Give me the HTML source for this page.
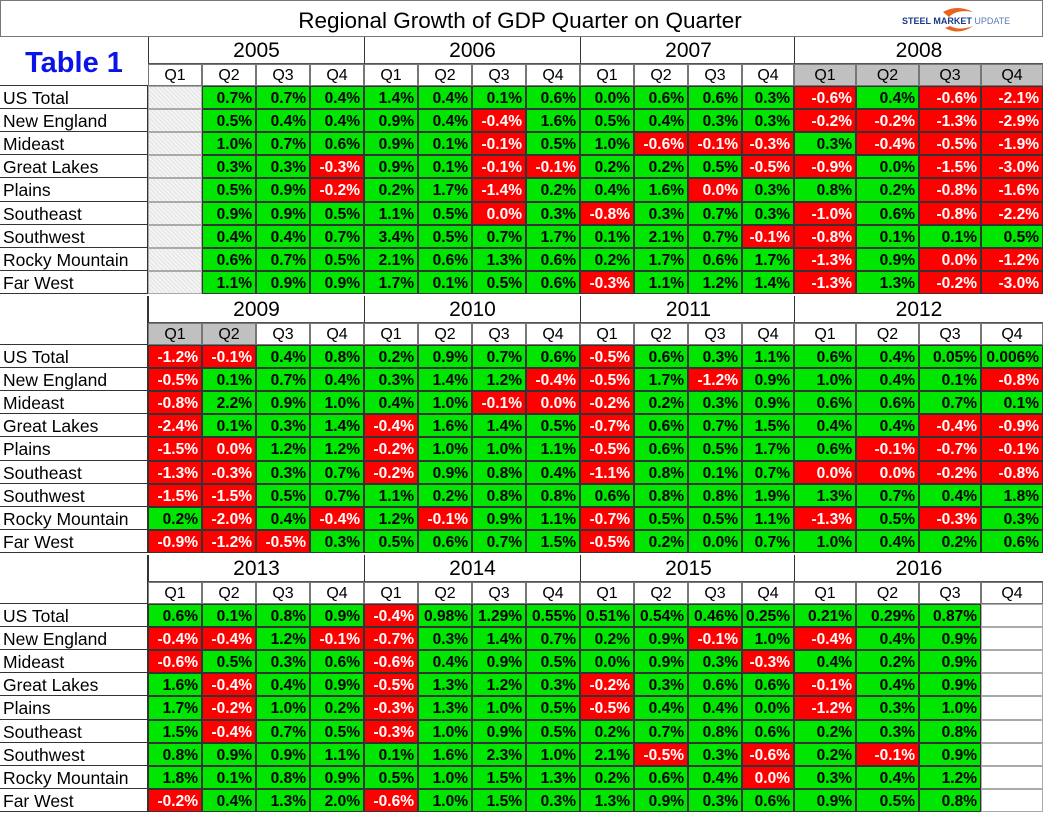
<!DOCTYPE html>
<html><head><meta charset="utf-8">
<style>
body{margin:0;background:#fff;}
#root{position:relative;width:1043px;height:814px;overflow:hidden;font-family:"Liberation Sans",Arial,sans-serif;background:#fff;}
.c{position:absolute;box-sizing:border-box;white-space:nowrap;overflow:hidden;}
.v{font-weight:bold;font-size:15.5px;text-align:right;padding-right:3px;border:1px solid #333;line-height:23px;}
.lab{font-size:17.5px;padding-left:3px;border-bottom:1px solid #333;border-right:1px solid #333;line-height:24px;}
.yr{font-size:21px;text-align:center;border-left:1px solid #333;border-bottom:1px solid #555;}
.q{font-size:16px;text-align:center;border:1px solid #777;}
</style></head><body>
<div id="root">
<div class="c" style="left:0;top:0;width:1043px;height:37px;border:1px solid #777;"></div>
<div class="c" style="left:250px;top:8px;width:540px;text-align:center;font-size:22.5px;">Regional Growth of GDP Quarter on Quarter</div>
<div class="c" style="left:895px;top:6px;width:148px;height:28px;">
<svg width="148" height="28"><path d="M48 6 Q62 -2 78 6 Q62 3 54 11 Z" fill="#e8641e"/><path d="M50 22 Q64 30 78 20 Q64 25 55 20 Z" fill="#e8641e"/><text x="7" y="18" font-size="9" font-weight="bold" fill="#1a3a8a" font-family="Liberation Sans">STEEL MARKET <tspan font-weight="normal" fill="#5a7ab8">UPDATE</tspan></text></svg></div>
<div class="c" style="left:0;top:37px;width:148px;height:49px;color:#0a14e6;font-weight:bold;font-size:29px;text-align:center;line-height:52px;border-bottom:1px solid #333;">Table 1</div>
</div>
<script>
const years=[["2005","2006","2007","2008"],["2009","2010","2011","2012"],["2013","2014","2015","2016"]];
const regions=["US Total","New England","Mideast","Great Lakes","Plains","Southeast","Southwest","Rocky Mountain","Far West"];
const quarters=["Q1","Q2","Q3","Q4"];
// "-0.0" denotes a zero shown in red; "" = no data
const block1=[
["","0.7","0.7","0.4","1.4","0.4","0.1","0.6","0.0","0.6","0.6","0.3","-0.6","0.4","-0.6","-2.1"],
["","0.5","0.4","0.4","0.9","0.4","-0.4","1.6","0.5","0.4","0.3","0.3","-0.2","-0.2","-1.3","-2.9"],
["","1.0","0.7","0.6","0.9","0.1","-0.1","0.5","1.0","-0.6","-0.1","-0.3","0.3","-0.4","-0.5","-1.9"],
["","0.3","0.3","-0.3","0.9","0.1","-0.1","-0.1","0.2","0.2","0.5","-0.5","-0.9","0.0","-1.5","-3.0"],
["","0.5","0.9","-0.2","0.2","1.7","-1.4","0.2","0.4","1.6","-0.0","0.3","0.8","0.2","-0.8","-1.6"],
["","0.9","0.9","0.5","1.1","0.5","-0.0","0.3","-0.8","0.3","0.7","0.3","-1.0","0.6","-0.8","-2.2"],
["","0.4","0.4","0.7","3.4","0.5","0.7","1.7","0.1","2.1","0.7","-0.1","-0.8","0.1","0.1","0.5"],
["","0.6","0.7","0.5","2.1","0.6","1.3","0.6","0.2","1.7","0.6","1.7","-1.3","0.9","-0.0","-1.2"],
["","1.1","0.9","0.9","1.7","0.1","0.5","0.6","-0.3","1.1","1.2","1.4","-1.3","1.3","-0.2","-3.0"]];
const block2=[
["-1.2","-0.1","0.4","0.8","0.2","0.9","0.7","0.6","-0.5","0.6","0.3","1.1","0.6","0.4","0.05","0.006"],
["-0.5","0.1","0.7","0.4","0.3","1.4","1.2","-0.4","-0.5","1.7","-1.2","0.9","1.0","0.4","0.1","-0.8"],
["-0.8","2.2","0.9","1.0","0.4","1.0","-0.1","-0.0","-0.2","0.2","0.3","0.9","0.6","0.6","0.7","0.1"],
["-2.4","0.1","0.3","1.4","-0.4","1.6","1.4","0.5","-0.7","0.6","0.7","1.5","0.4","0.4","-0.4","-0.9"],
["-1.5","-0.0","1.2","1.2","-0.2","1.0","1.0","1.1","-0.5","0.6","0.5","1.7","0.6","-0.1","-0.7","-0.1"],
["-1.3","-0.3","0.3","0.7","-0.2","0.9","0.8","0.4","-1.1","0.8","0.1","0.7","-0.0","-0.0","-0.2","-0.8"],
["-1.5","-1.5","0.5","0.7","1.1","0.2","0.8","0.8","0.6","0.8","0.8","1.9","1.3","0.7","0.4","1.8"],
["0.2","-2.0","0.4","-0.4","1.2","-0.1","0.9","1.1","-0.7","0.5","0.5","1.1","-1.3","0.5","-0.3","0.3"],
["-0.9","-1.2","-0.5","0.3","0.5","0.6","0.7","1.5","-0.5","0.2","0.0","0.7","1.0","0.4","0.2","0.6"]];
const block3=[
["0.6","0.1","0.8","0.9","-0.4","0.98","1.29","0.55","0.51","0.54","0.46","0.25","0.21","0.29","0.87",""],
["-0.4","-0.4","1.2","-0.1","-0.7","0.3","1.4","0.7","0.2","0.9","-0.1","1.0","-0.4","0.4","0.9",""],
["-0.6","0.5","0.3","0.6","-0.6","0.4","0.9","0.5","0.0","0.9","0.3","-0.3","0.4","0.2","0.9",""],
["1.6","-0.4","0.4","0.9","-0.5","1.3","1.2","0.3","-0.2","0.3","0.6","0.6","-0.1","0.4","0.9",""],
["1.7","-0.2","1.0","0.2","-0.3","1.3","1.0","0.5","-0.5","0.4","0.4","0.0","-1.2","0.3","1.0",""],
["1.5","-0.4","0.7","0.5","-0.3","1.0","0.9","0.5","0.2","0.7","0.8","0.6","0.2","0.3","0.8",""],
["0.8","0.9","0.9","1.1","0.1","1.6","2.3","1.0","2.1","-0.5","0.3","-0.6","0.2","-0.1","0.9",""],
["1.8","0.1","0.8","0.9","0.5","1.0","1.5","1.3","0.2","0.6","0.4","-0.0","0.3","0.4","1.2",""],
["-0.2","0.4","1.3","2.0","-0.6","1.0","1.5","0.3","1.3","0.9","0.3","0.6","0.9","0.5","0.8",""]];
const grayQ=[[12,13,14,15],[0,1],[]];
const blocks=[block1,block2,block3];
const root=document.getElementById('root');
function colX(i){const y=Math.floor(i/4),q=i%4;if(y<3)return 148+y*216+q*54;return Math.round(794+q*62.25);}
function colW(i){return colX(i+1<16?i+1:16)-colX(i)+(i===15?0:0);}
function colW2(i){return i===15?1043-colX(15):colX(i+1)-colX(i);}
function mk(cls,x,y,w,h,txt){const d=document.createElement('div');d.className='c '+cls;d.style.left=x+'px';d.style.top=y+'px';d.style.width=w+'px';d.style.height=h+'px';d.textContent=txt;root.appendChild(d);return d;}
blocks.forEach((data,b)=>{
  const ds=86+259*b;
  years[b].forEach((yr,k)=>{
    const x=colX(k*4),w=k<3?216:249;
    const e=mk('yr',x,ds-49,w,27,yr);
    e.style.lineHeight='28px';
    
    
  });
  if(b>0){const e=mk('lab',0,ds-49,148,49,'');
    
    }
  for(let i=0;i<16;i++){
    const e=mk('q',colX(i),ds-22,colW2(i),22,quarters[i%4]);
    e.style.lineHeight='21px';
    if(grayQ[b].includes(i))e.style.background='#c0c0c0';
    
    
  }
  regions.forEach((r,ri)=>{
    const y=Math.round(ds+ri*23.1), h=Math.round(ds+(ri+1)*23.1)-y;
    const l=mk('lab',0,y,148,h,r);
    
    
    data[ri].forEach((s,i)=>{
      const e=mk('v',colX(i),y,colW2(i),h,'');
      
      
      if(s===''){
        e.style.border='1px solid #aaa';
        e.style.background=(b===0)?'repeating-linear-gradient(45deg,#e4e4e4 0 1px,#f4f4f4 1px 3px)':'#fff';
        return;
      }
      const neg=s.startsWith('-');
      const shown=parseFloat(s)===0?s.replace('-',''):s;
      e.textContent=shown+'%';
      e.style.background=neg?'#ff0000':'#00e600';
      e.style.color=neg?'#fff':'#000';
    });
  });
});
</script>
</body></html>
